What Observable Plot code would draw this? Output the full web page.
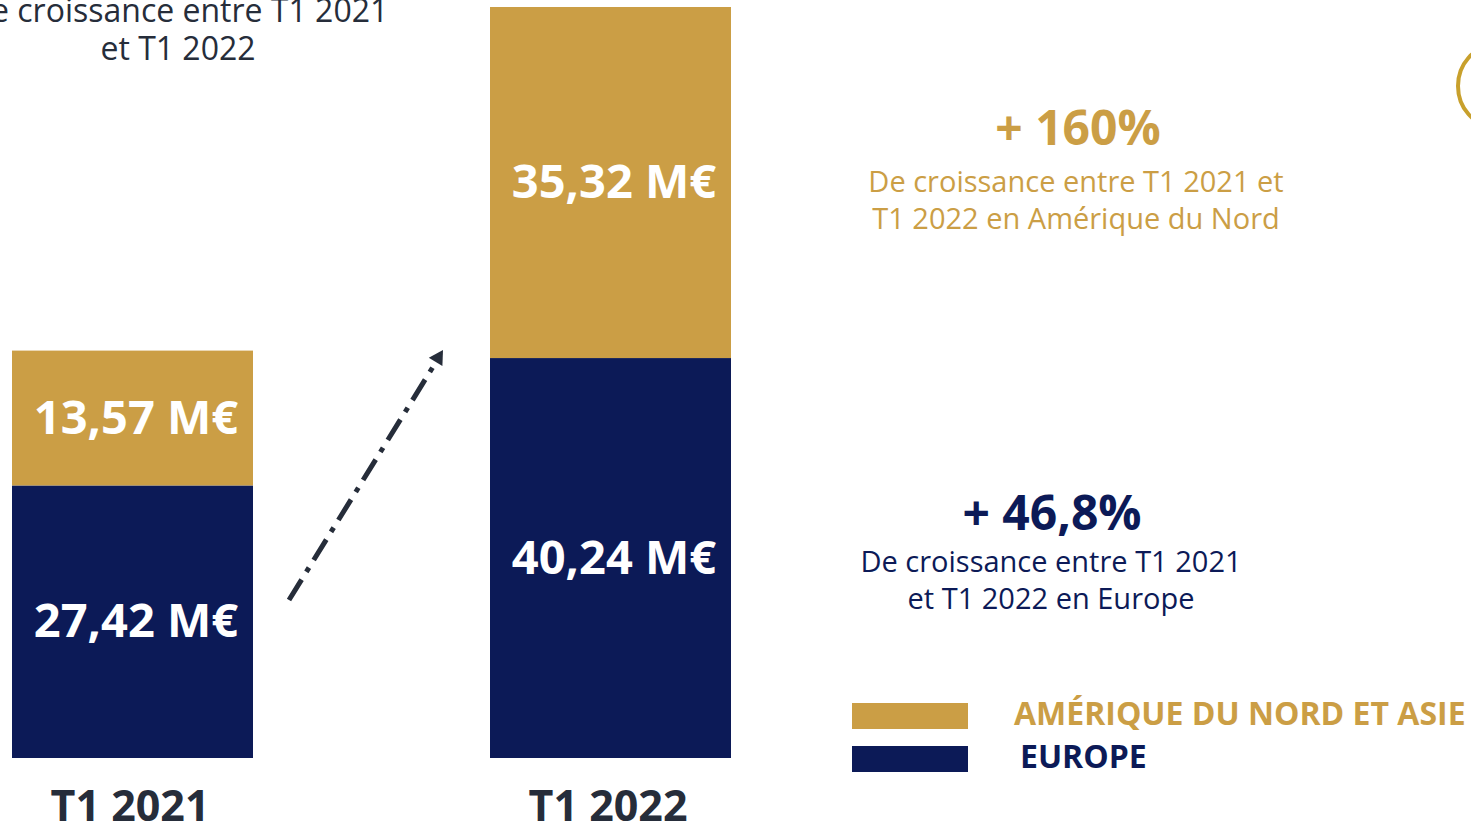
<!DOCTYPE html>
<html>
<head>
<meta charset="utf-8">
<script src="https://cdn.jsdelivr.net/npm/d3@7"></script>
<script src="https://cdn.jsdelivr.net/npm/@observablehq/plot@0.6"></script>
<style>
  html, body { margin: 0; padding: 0; background: #ffffff; }
  #stage { position: relative; width: 1471px; height: 824px; overflow: hidden; font-family: "Open Sans", sans-serif; background: #fff; }
  #chart { position: absolute; left: 0; top: 0; }
  .ann { position: absolute; text-align: center; white-space: nowrap; }
  .big { font-size: 48px; font-weight: 700; line-height: 48px; }
  .sub { font-size: 29px; font-weight: 400; line-height: 37px; }
  .leg { position: absolute; font-size: 32px; font-weight: 700; line-height: 32px; white-space: nowrap; }
  .sw { position: absolute; width: 116px; height: 26px; }
  #deco { position: absolute; left: 0; top: 0; pointer-events: none; }
</style>
</head>
<body>
<div id="stage">
  <div id="chart"></div>
  <svg id="deco" width="1471" height="824">
    <line x1="289" y1="600" x2="436" y2="362" stroke="#262d3a" stroke-width="5" stroke-dasharray="24 9 5 9"></line>
    <polygon points="443,350 442.4,366.1 428.8,357.7" fill="#262d3a"></polygon>
    <ellipse cx="1494" cy="86" rx="36" ry="40" fill="none" stroke="#c8a02c" stroke-width="4"></ellipse>
  </svg>
  <div class="ann" style="left:-122px; width:600px; top:-9px; color:#262d3a; font-size:32px; line-height:38px;">De croissance entre T1 2021<br>et T1 2022</div>
  <div class="ann big" id="pctNA" style="left:878px; width:400px; top:103px; color:#cb9e45;"></div>
  <div class="ann sub" style="left:826px; width:500px; top:162px; color:#cb9e45;">De croissance entre T1 2021 et<br>T1 2022 en Amérique du Nord</div>
  <div class="ann big" id="pctEU" style="left:852px; width:400px; top:488px; color:#0c1a57;"></div>
  <div class="ann sub" style="left:801px; width:500px; top:542px; color:#0c1a57;">De croissance entre T1 2021<br>et T1 2022 en Europe</div>
  <div id="legend"></div>
</div>
<script>
// ---- data ----
const quarters = ["T1 2021", "T1 2022"];
const regions = ["Europe", "Amérique du Nord et Asie"];
const europeValues = [27.42, 40.24];      // M€
const ameriqueValues = [13.57, 35.32];    // M€
const growthLabels = ["+ 160%", "+ 46,8%"]; // Amérique du Nord, Europe
const legendLabels = ["AMÉRIQUE DU NORD ET ASIE", "EUROPE"];
const colors = ["#0c1a57", "#cb9e45"];

const fmt = v => v.toFixed(2).replace(".", ",") + " M€";
const rows = [];
quarters.forEach((q, i) => {
  rows.push({quarter: q, region: regions[0], value: europeValues[i], label: fmt(europeValues[i])});
  rows.push({quarter: q, region: regions[1], value: ameriqueValues[i], label: fmt(ameriqueValues[i])});
});
const maxTotal = d3.max(quarters, (q, i) => europeValues[i] + ameriqueValues[i]);

const chart = Plot.plot({
  width: 1471,
  height: 824,
  marginTop: 7,
  marginBottom: 66,
  marginLeft: 12,
  marginRight: 740,
  style: {fontFamily: "Open Sans", background: "transparent", overflow: "visible"},
  x: {domain: quarters, paddingInner: 0.496, paddingOuter: 0},
  y: {domain: [0, maxTotal], axis: null},
  color: {domain: regions, range: colors},
  marks: [
    Plot.barY(rows, {x: "quarter", y: "value", fill: "region", order: regions}),
    Plot.text(rows, Plot.stackY({
      x: "quarter", y: "value", z: "region", order: regions, text: "label",
      fill: "white", fontSize: 47, fontWeight: "bold", dx: 3
    })),
    Plot.axisX({tickSize: 0, tickPadding: 32, fontSize: 43, fontWeight: "bold", color: "#262d3a", lineAnchor: "top", label: null, dx: -3})
  ]
});
document.getElementById("chart").appendChild(chart);

document.getElementById("pctNA").textContent = growthLabels[0];
document.getElementById("pctEU").textContent = growthLabels[1];

// legend (top: Amérique, bottom: Europe)
const legend = document.getElementById("legend");
const legendItems = [
  {label: legendLabels[0], color: colors[1], top: 703, textTop: 697, textLeft: 1014},
  {label: legendLabels[1], color: colors[0], top: 746, textTop: 740, textLeft: 1020}
];
legendItems.forEach(it => {
  const sw = document.createElement("div");
  sw.className = "sw";
  sw.style.left = "852px";
  sw.style.top = it.top + "px";
  sw.style.background = it.color;
  legend.appendChild(sw);
  const t = document.createElement("div");
  t.className = "leg";
  t.style.left = it.textLeft + "px";
  t.style.top = it.textTop + "px";
  t.style.color = it.color;
  t.textContent = it.label;
  legend.appendChild(t);
});
</script>
</body>
</html>
